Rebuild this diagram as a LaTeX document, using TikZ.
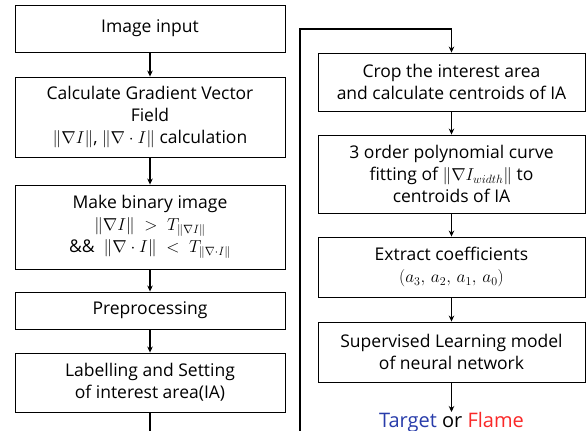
\documentclass[tikz,border=0pt]{standalone}
\usepackage{amsmath}
\usepackage{amssymb}
\usepackage[no-math]{fontspec}
\setmainfont{Open Sans}
\usepackage{tikz}
\usetikzlibrary{arrows.meta}

\definecolor{targetblue}{RGB}{40,60,170}
\definecolor{flamered}{RGB}{250,40,40}

\tikzset{
    box/.style={draw, line width=0.9pt, align=center, inner sep=0pt,
        font=\fontsize{17.5}{22}\selectfont},
    lbox/.style={box, minimum width=270pt},
    rbox/.style={box, minimum width=267pt},
    flow/.style={line width=1.1pt, -{Stealth[length=6pt,width=5.5pt]}}
}

\begin{document}
\begin{tikzpicture}[x=1pt,y=-1pt]
    \clip (0,0) rectangle (587,431);
    \fill[white] (0,0) rectangle (587,431);
    % left column
    \node[lbox, minimum height=47pt] (img) at (150,28.5){Image input};
    \node[lbox, minimum height=80pt] (calc) at (150,117){Calculate Gradient Vector\\Field\\$\|\nabla I\|$, $\|\nabla\cdot I\|$ calculation};
    \node[lbox, minimum height=84pt] (bin) at (150,227){Make binary image\\$\|\nabla I\|\;>\;T_{\|\nabla I\|}$\\\&\&~ $\|\nabla\cdot I\|\;<\;T_{\|\nabla\cdot I\|}$};
    \node[lbox, minimum height=37pt] (pre) at (150,310.5){Preprocessing};
    \node[lbox, minimum height=59pt] (lab) at (150,382.5){Labelling and Setting\\of interest area(IA)};
    % right column
    \node[rbox, minimum height=58pt] (crop) at (451.5,82){Crop the interest area\\and calculate centroids of IA};
    \node[rbox, minimum height=78pt] (poly) at (451.5,174){3 order polynomial curve\\fitting of $\|\nabla I_{width}\|$ to\\centroids of IA};
    \node[rbox, minimum height=60pt] (coef) at (451.5,267){Extract coefficients\\$(a_3,\, a_2,\, a_1,\, a_0)$};
    \node[rbox, minimum height=60pt] (nn) at (451.5,352){Supervised Learning model\\of neural network};
    \node[font=\fontsize{20}{22}\selectfont, anchor=north, inner sep=0pt] (out) at (451.5,412){\textcolor{targetblue}{Target} or \textcolor{flamered}{Flame}};
    \coordinate (low) at (150,450);
    \coordinate (turn) at (300,29);

    \draw[flow](img)--(calc);
    \draw[flow](calc)--(bin);
    \draw[flow](bin)--(pre);
    \draw[flow](pre)--(lab);
    \draw[flow](lab.south)--(low)-|(turn)-|(crop.north);
    \draw[flow](crop)--(poly);
    \draw[flow](poly)--(coef);
    \draw[flow](coef)--(nn);
    \draw[flow](nn)--(out);
\end{tikzpicture}
\end{document}
